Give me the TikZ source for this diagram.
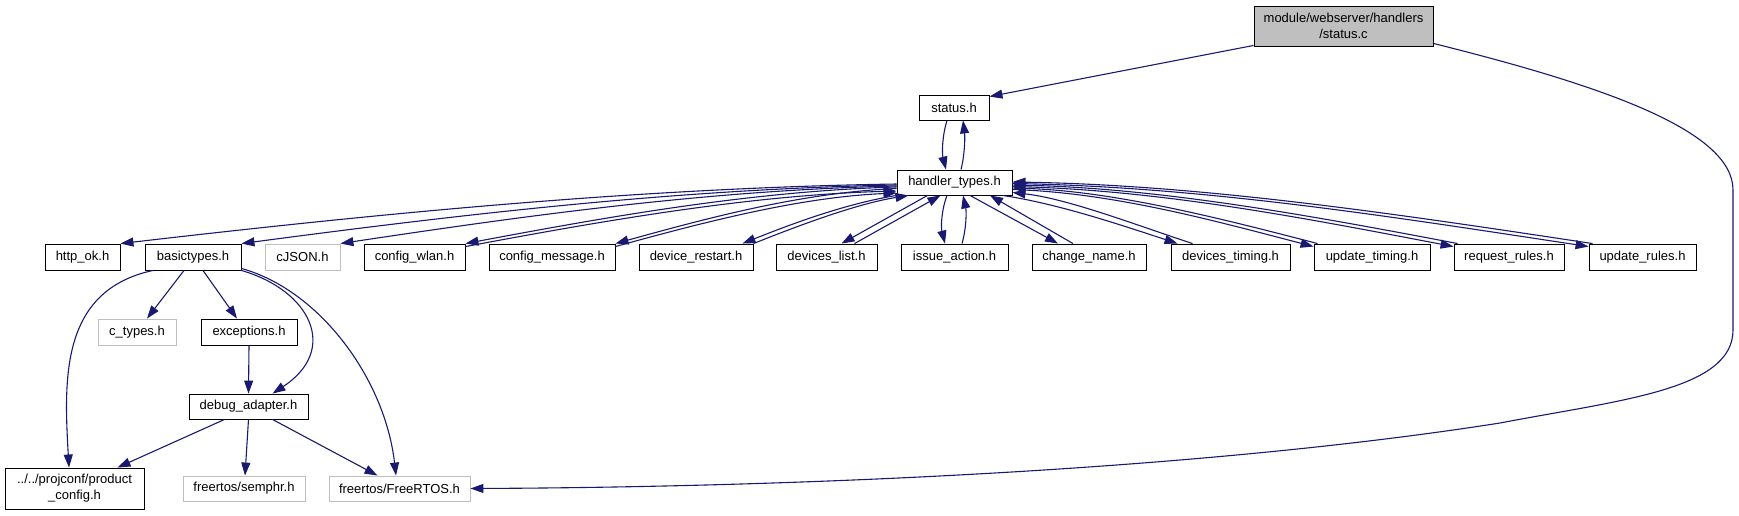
\documentclass[tikz,border=0pt]{standalone}
\usepackage{fontspec}
\setmainfont{Liberation Sans}
\usetikzlibrary{arrows.meta}
\definecolor{edgeblue}{HTML}{191970}
\definecolor{missgray}{HTML}{BFBFBF}
\begin{document}
\begin{tikzpicture}[x=1pt,y=-1pt,
  every node/.style={font=\fontsize{13}{16}\selectfont},
  box/.style={draw=black, line width=0.9pt, fill=white, inner sep=0pt, minimum height=26pt, align=center},
  gbox/.style={box, draw=missgray},
  edge/.style={draw=edgeblue, line width=1.1pt, -{Triangle[length=13pt,width=9pt]}},
]
\useasboundingbox (0,0) rectangle (1739,515);

% nodes
\node[box, fill=missgray, minimum width=179pt, minimum height=40pt] (statusc) at (1343.5,26) {module/webserver/handlers\\/status.c};
\node[box, minimum width=70pt, minimum height=25pt] (statush) at (954,107.5) {status.h};
\node[box, minimum width=115pt, minimum height=25pt] (ht) at (954.5,182.5) {handler\_types.h};

\node[box, minimum width=75pt]  (httpok)  at (82.5,257)  {http\_ok.h};
\node[box, minimum width=96pt]  (basic)   at (193,257)   {basictypes.h};
\node[gbox, minimum width=75pt] (cjson)   at (302.5,257) {cJSON.h};
\node[box, minimum width=101pt] (wlan)    at (414.5,257) {config\_wlan.h};
\node[box, minimum width=126pt] (msg)     at (552,257)   {config\_message.h};
\node[box, minimum width=114pt] (restart) at (696,257)   {device\_restart.h};
\node[box, minimum width=101pt] (dlist)   at (826.5,257) {devices\_list.h};
\node[box, minimum width=107pt] (issue)   at (954.5,257) {issue\_action.h};
\node[box, minimum width=114pt] (chname)  at (1089,257)  {change\_name.h};
\node[box, minimum width=119pt] (dtiming) at (1230.5,257) {devices\_timing.h};
\node[box, minimum width=116pt] (utiming) at (1372,257)  {update\_timing.h};
\node[box, minimum width=110pt] (rrules)  at (1509,257)  {request\_rules.h};
\node[box, minimum width=107pt] (urules)  at (1642.5,257) {update\_rules.h};

\node[gbox, minimum width=78pt] (ctypes) at (137,332) {c\_types.h};
\node[box, minimum width=96pt]  (exc)    at (249,332) {exceptions.h};
\node[box, minimum width=119pt, minimum height=25pt] (dbg) at (248.5,406.5) {debug\_adapter.h};
\node[box, minimum width=139pt, minimum height=41pt] (pconf) at (74.5,488.5) {../../projconf/product\\\_config.h};
\node[gbox, minimum width=122pt, minimum height=25pt] (semphr) at (244,488.5) {freertos/semphr.h};
\node[gbox, minimum width=141pt, minimum height=25pt] (frtos)  at (399.5,488.5) {freertos/FreeRTOS.h};

% status.c edges
\draw[edge] ([yshift=1pt]statusc.south west) -- ([yshift=-2pt]statush.north east);
\draw[edge] ([yshift=3pt]statusc.south east) .. controls (1600,85) and (1733,130) .. (1733,190)
  -- (1733,330) .. controls (1733,390) and (1620,400) .. (1500,423)
  .. controls (1200,470) and (800,487) .. (frtos.east);

% status.h <-> handler_types.h
\draw[edge] ([xshift=-7pt]statush.south) .. controls +(-5,16) and +(-4,-16) .. ([xshift=-8.5pt]ht.north);
\draw[edge] ([xshift=6.5pt]ht.north) .. controls +(4,-16) and +(2,16) .. ([xshift=9pt]statush.south);

% left side
\draw[edge] ([yshift=-1.5pt]ht.west) .. controls +(-259,4) and +(259,-30) .. (httpok.north east);
\draw[edge] ([yshift=-2.5pt]ht.west) .. controls +(-219,4) and +(219,-29) .. (basic.north east);
\draw[edge] ([yshift=-3.5pt]ht.west) .. controls +(-186,4) and +(186,-28) .. (cjson.north east);
\draw[edge] ([yshift=-4.5pt]ht.west) .. controls +(-144,4) and +(144,-27) .. (wlan.north east);
\draw[edge] ([yshift=-3pt]wlan.north east) .. controls +(144,-27) and +(-144,4) .. ([yshift=-8.5pt]ht.west);
\draw[edge] ([yshift=-6pt]ht.west) .. controls +(-94,4) and +(94,-26) .. (msg.north east);
\draw[edge] ([yshift=-3pt]msg.north east) .. controls +(94,-26) and +(-94,4) .. ([yshift=-10.5pt]ht.west);
\draw[edge] (ht.south west) .. controls +(-50,8) and +(50,-20) .. ([xshift=-11pt]restart.north east);
\draw[edge] (restart.north east) .. controls +(50,-20) and +(-50,8) .. ([xshift=12pt]ht.south west);
\draw[edge] ([xshift=-27pt]ht.south) -- ([xshift=15pt]dlist.north);
\draw[edge] ([xshift=28pt]dlist.north) -- ([xshift=-14pt]ht.south);

% issue_action
\draw[edge] ([xshift=-7.5pt]ht.south) .. controls +(-6,16) and +(-4,-16) .. ([xshift=-9.5pt]issue.north);
\draw[edge] ([xshift=7.5pt]issue.north) .. controls +(4.5,-16) and +(3.5,16) .. ([xshift=8.5pt]ht.south);

% right side
\draw[edge] ([xshift=15.5pt]ht.south) -- ([xshift=-31pt]chname.north);
\draw[edge] ([xshift=-16pt]chname.north) -- ([xshift=35.5pt]ht.south);
\draw[edge] ([xshift=-10pt]ht.south east) .. controls +(55,8) and +(-55,-18) .. ([xshift=7pt]dtiming.north west);
\draw[edge] ([xshift=22pt]dtiming.north west) .. controls +(-55,-18) and +(55,6) .. ([yshift=-10pt]ht.east);
\draw[edge] ([yshift=-7pt]ht.east) .. controls +(100,3) and +(-100,-26) .. ([yshift=-3pt]utiming.north west);
\draw[edge] ([xshift=4pt]utiming.north west) .. controls +(-100,-26) and +(100,3) .. ([yshift=-5.5pt]ht.east);
\draw[edge] ([yshift=-4pt]ht.east) .. controls +(147,3) and +(-147,-28) .. ([yshift=-3pt]rrules.north west);
\draw[edge] ([xshift=4pt]rrules.north west) .. controls +(-147,-28) and +(147,3) .. ([yshift=-2.5pt]ht.east);
\draw[edge] ([yshift=-1pt]ht.east) .. controls +(192,3) and +(-192,-29) .. ([yshift=-3pt]urules.north west);
\draw[edge] ([xshift=4pt]urules.north west) .. controls +(-192,-29) and +(192,3) .. ([yshift=0.5pt]ht.east);

% basictypes
\draw[edge] ([xshift=-9pt]basic.south) -- ([xshift=10pt]ctypes.north);
\draw[edge] ([xshift=10pt]basic.south) -- ([xshift=-12pt]exc.north);
\draw[edge] ([xshift=-40pt]basic.south) .. controls +(-93,20) and +(-5,-88) .. ([xshift=-5.5pt]pconf.north);
\draw[edge] (basic.south east) .. controls +(69,20) and +(67,-44) .. ([xshift=24pt]dbg.north);
\draw[edge] ([yshift=2pt]basic.south east) .. controls +(79,22) and +(-11,-96) .. ([xshift=-3.5pt]frtos.north);

% exceptions / debug_adapter
\draw[edge] (exc.south) -- (dbg.north);
\draw[edge] ([xshift=-24pt]dbg.south) -- ([xshift=43pt]pconf.north);
\draw[edge] (dbg.south) -- ([xshift=1pt]semphr.north);
\draw[edge] ([xshift=24pt]dbg.south) -- ([xshift=-22pt]frtos.north);
\end{tikzpicture}
\end{document}
